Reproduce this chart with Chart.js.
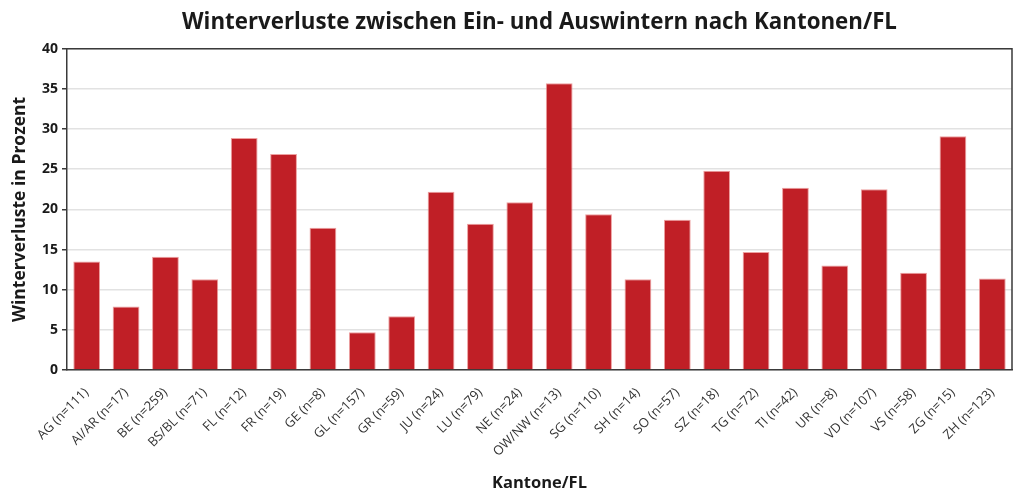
<!DOCTYPE html>
<html>
<head>
<meta charset="utf-8">
<script src="https://cdn.jsdelivr.net/npm/chart.js@4/dist/chart.umd.min.js"></script>
<style>
html,body{margin:0;padding:0;background:#fff;}
#wrap{width:1021px;height:493px;position:relative;}
</style>
</head>
<body>
<div id="wrap"><canvas id="chart"></canvas></div>
<script>
const kantone=["AG (n=111)","AI/AR (n=17)","BE (n=259)","BS/BL (n=71)","FL (n=12)","FR (n=19)","GE (n=8)","GL (n=157)","GR (n=59)","JU (n=24)","LU (n=79)","NE (n=24)","OW/NW (n=13)","SG (n=110)","SH (n=14)","SO (n=57)","SZ (n=18)","TG (n=72)","TI (n=42)","UR (n=8)","VD (n=107)","VS (n=58)","ZG (n=15)","ZH (n=123)"];
const verluste=[13.5,7.9,14.1,11.3,28.9,26.9,17.7,4.7,6.7,22.2,18.2,20.9,35.7,19.4,11.3,18.7,24.8,14.7,22.7,13.0,22.5,12.1,29.1,11.4];
const yTicks=[0,5,10,15,20,25,30,35,40];

const fontName="'Open Sans', 'Noto Sans', sans-serif";

// dark frame round the plot area
const frame={
id:"frame",
afterDraw(chart){
const a=chart.chartArea;
const ctx=chart.ctx;
ctx.save();
ctx.strokeStyle="#3a3a3a";
ctx.lineWidth=1.5;
ctx.beginPath();
ctx.moveTo(a.left,a.top);
ctx.lineTo(a.right,a.top);
ctx.lineTo(a.right,a.bottom);
ctx.stroke();
ctx.restore();
}
};

new Chart(document.getElementById("chart"),{
type:"bar",
data:{
labels:kantone,
datasets:[{
data:verluste,
backgroundColor:"#c01f26",
borderColor:"rgba(235,150,150,0.9)",
borderWidth:{top:1,left:1,right:1,bottom:0},
barPercentage:0.68,
categoryPercentage:1
}]
},
options:{
responsive:true,
maintainAspectRatio:false,
animation:false,
layout:{padding:{left:10,right:9,top:6,bottom:0}},
plugins:{
legend:{display:false},
tooltip:{enabled:false},
title:{
display:true,
fullSize:false,
text:"Winterverluste zwischen Ein- und Auswintern nach Kantonen/FL",
color:"#1a1a1a",
font:{family:fontName,size:22.3,weight:"bold"},
padding:{top:3,bottom:13}
}
},
scales:{
x:{
grid:{display:false},
border:{display:true,color:"#3a3a3a",width:1.5},
ticks:{
color:"#333",
font:{family:fontName,size:13},
minRotation:45,
maxRotation:45,
autoSkip:false,
padding:7
},
title:{
display:true,
text:"Kantone/FL",
color:"#1a1a1a",
font:{family:fontName,size:16.5,weight:"bold"},
padding:{top:0,bottom:0}
},
afterFit(scale){scale.height=123;}
},
y:{
min:0,
max:40,
afterBuildTicks(scale){scale.ticks=yTicks.map(v=>({value:v}));},
grid:{color:"#e2e2e2",lineWidth:1.5,tickColor:"#3a3a3a",tickLength:5},
border:{display:true,color:"#3a3a3a",width:1.5},
ticks:{
color:"#1a1a1a",
font:{family:fontName,size:14,weight:"bold"},
padding:4
},
title:{
display:true,
text:"Winterverluste in Prozent",
color:"#1a1a1a",
font:{family:fontName,size:17.5,weight:"bold"},
padding:{top:0,bottom:4}
},
afterFit(scale){scale.width=57;}
}
}
},
plugins:[frame]
});
</script>
</body>
</html>
